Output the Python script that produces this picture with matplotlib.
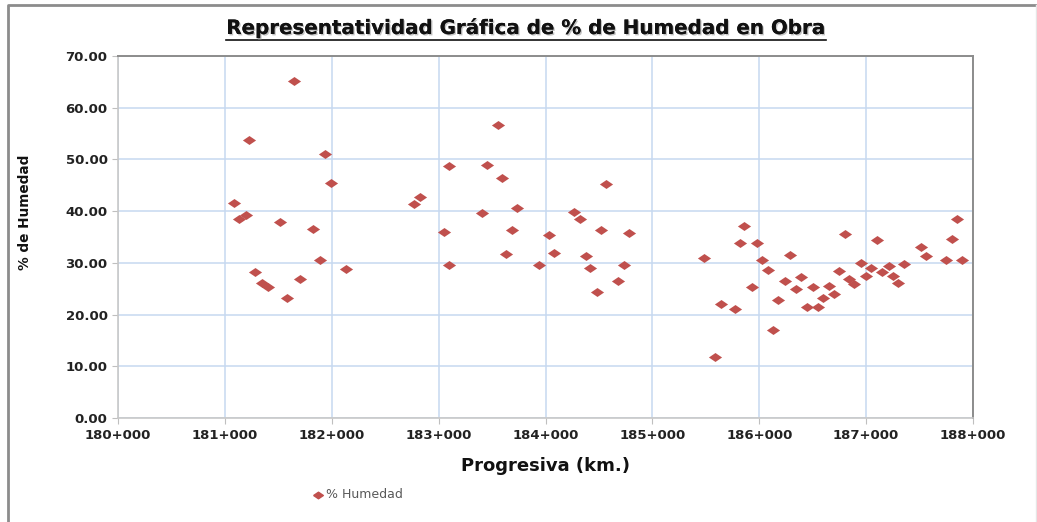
import numpy as np
import matplotlib
matplotlib.use("Agg")
import matplotlib.pyplot as plt
import matplotlib.patheffects as pe
from matplotlib.lines import Line2D

# progresiva (km) and % humedad
progresiva = [
    181.65, 181.23, 181.94, 181.99, 181.09, 181.13, 181.20, 181.52, 181.82,
    181.89, 182.13, 181.28, 181.35, 181.40, 181.70, 181.58,
    183.56, 183.10, 183.45, 183.59, 182.83, 182.77, 183.41, 183.73, 183.05,
    183.69, 184.03, 184.08, 183.63, 183.10, 183.94, 184.27, 184.32, 184.57,
    184.52, 184.78, 184.38, 184.42, 184.73, 184.68, 184.48,
    185.48, 185.59, 185.64, 185.77, 185.86, 185.82, 185.98, 185.93, 186.03,
    186.08, 186.13, 186.18, 186.29, 186.24, 186.34, 186.39, 186.45, 186.50,
    186.55, 186.60, 186.65, 186.70, 186.75, 186.80, 186.84, 186.89, 186.95,
    187.00, 187.05, 187.10, 187.15, 187.21, 187.25, 187.30, 187.35, 187.51,
    187.56, 187.75, 187.80, 187.85, 187.90,
]
humedad = [
    65.1, 53.7, 51.1, 45.4, 41.5, 38.5, 39.2, 37.9, 36.5,
    30.5, 28.8, 28.2, 26.1, 25.4, 26.9, 23.3,
    56.7, 48.7, 48.9, 46.4, 42.7, 41.3, 39.7, 40.6, 36.0,
    36.4, 35.3, 31.9, 31.8, 29.6, 29.6, 39.9, 38.4, 45.3,
    36.3, 35.8, 31.4, 29.0, 29.6, 26.4, 24.3,
    31.0, 11.7, 22.1, 21.1, 37.2, 33.9, 33.9, 25.3, 30.6,
    28.6, 17.1, 22.9, 31.5, 26.4, 25.0, 27.3, 21.5, 25.3,
    21.4, 23.3, 25.6, 24.0, 28.4, 35.5, 26.8, 25.9, 30.0,
    27.4, 29.1, 34.5, 28.2, 29.4, 27.5, 26.2, 29.7, 33.1,
    31.3, 30.6, 34.7, 38.5, 30.6,
]
x_ticks = [180, 181, 182, 183, 184, 185, 186, 187, 188]
x_labels = ["180+000", "181+000", "182+000", "183+000", "184+000",
            "185+000", "186+000", "187+000", "188+000"]
y_ticks = [0, 10, 20, 30, 40, 50, 60, 70]

plt.rcParams['font.family'] = ['DejaVu Sans']
W, H = 1037, 522
fig = plt.figure(figsize=(W / 100, H / 100), dpi=100)
ax = fig.add_axes([118 / W, 1 - 418 / H, 855 / W, 362 / H])

diamond = [(-1, 0), (0, 0.68), (1, 0), (0, -0.68), (-1, 0)]
ax.scatter(progresiva, humedad, marker=diamond, s=90, color="#c0504d",
           linewidths=0, zorder=3)

ax.set_xlim(180, 188)
ax.set_ylim(0, 70)
ax.set_xticks(x_ticks)
ax.set_xticklabels(x_labels)
ax.set_yticks(y_ticks)
ax.set_yticklabels([f"{v:.2f}" for v in y_ticks])
ax.grid(True, color="#c6d9f0", lw=1.1)
ax.set_axisbelow(True)
ax.tick_params(axis="both", length=4, color="#bfbfbf", labelsize=9.5,
               labelcolor="#222222")
ax.tick_params(axis="x", pad=4)
for lab in ax.get_xticklabels() + ax.get_yticklabels():
    lab.set_fontweight("bold")
for s in ("top", "right"):
    ax.spines[s].set_color("#8c8c8c")
    ax.spines[s].set_linewidth(1.4)
for s in ("left", "bottom"):
    ax.spines[s].set_color("#c8c8c8")
    ax.spines[s].set_linewidth(1.2)

ax.set_xlabel("Progresiva (km.)", fontsize=13, fontweight="bold",
              color="#111111")
ax.xaxis.set_label_coords(0.5, -(457 - 418) / 362)
ax.set_ylabel("% de Humedad", fontsize=9.8, fontweight="bold",
              color="#111111")
ax.yaxis.set_label_coords(-(118 - 32) / 855, (418 - 212) / 362)

title = fig.text(526 / W, 1 - 28 / H,
                 "Representatividad Gráfica de % de Humedad en Obra",
                 ha="center", va="center", fontsize=14.3, fontweight="bold",
                 color="#111111",
                 path_effects=[pe.withSimplePatchShadow(offset=(1, -1),
                                                        shadow_rgbFace="#aaaaaa",
                                                        alpha=0.7),
                               pe.Normal()])
fig.canvas.draw()
bb = title.get_window_extent().transformed(fig.transFigure.inverted())
fig.add_artist(Line2D([bb.x0, bb.x1], [bb.y0 - 0.004, bb.y0 - 0.004],
                      transform=fig.transFigure, color="#111111", lw=1.2))

# legend
fig.add_artist(Line2D([318 / W], [1 - 495 / H], marker=diamond, ms=7,
                      color="#c0504d", lw=0, transform=fig.transFigure))
fig.text(326 / W, 1 - 495 / H, "% Humedad", ha="left", va="center",
         fontsize=9, color="#595959")

# outer chart frame
fig.add_artist(Line2D([8 / W, 8 / W, 1036 / W],
                      [0, 1 - 5 / H, 1 - 5 / H],
                      transform=fig.transFigure, color="#8c8c8c", lw=2))
fig.add_artist(Line2D([1035.5 / W, 1035.5 / W], [0, 1 - 5 / H],
                      transform=fig.transFigure, color="#e6e6e6", lw=1))

fig.savefig("out.png", dpi=100)
